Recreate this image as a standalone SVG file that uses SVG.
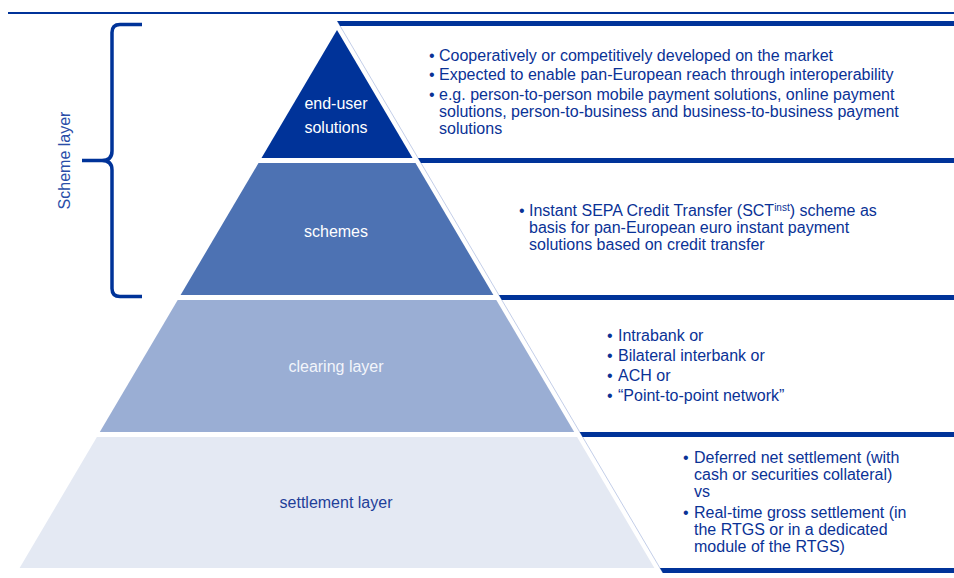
<svg xmlns="http://www.w3.org/2000/svg" width="954" height="578" viewBox="0 0 954 578">
<style>
  text { font-family: "Liberation Sans", Arial, sans-serif; }
  .body { font-size: 16px; fill: #0a3296; }
  .lbl { font-size: 16px; text-anchor: middle; }
  .band { fill: #003399; }
  .diag { stroke: #b4c2e2; stroke-width: 0.8; fill: none; }
</style>
<rect width="954" height="578" fill="#ffffff"/>
<line x1="8" y1="13" x2="954" y2="13" stroke="#003399" stroke-width="2"/>

<g id="scheme-layer-brace">
  <path d="M142,24.5 L120,24.5 Q112,24.5 112,32.5 L112,151 Q112,160.5 102,160.5 L82,160.5 M102,160.5 Q112,160.5 112,170 L112,288.5 Q112,296.5 120,296.5 L142,296.5" fill="none" stroke="#003399" stroke-width="3.5" stroke-linejoin="round"/>
  <text transform="translate(70,160.5) rotate(-90)" text-anchor="middle" font-size="16" fill="#2a4ea8">Scheme layer</text>
</g>

<g id="connectors">
  <line class="diag" x1="337.2" y1="21" x2="662.9" y2="573"/>
  <polygon class="band" points="337.2,21 954,21 954,26 340.1,26"/>
  <polygon class="band" points="418,158 954,158 954,163 421,163"/>
  <polygon class="band" points="498.9,295 954,295 954,300 501.8,300"/>
  <polygon class="band" points="579.7,432 954,432 954,437 582.6,437"/>
  <polygon class="band" points="659.9,568 954,568 954,573 662.9,573"/>
</g>

<g id="end-user-solutions">
  <polygon points="337,30 412.5,158 261.5,158" fill="#003399"/>
  <text class="lbl" x="336" y="109" fill="#ffffff">end-user</text>
  <text class="lbl" x="336" y="133" fill="#ffffff">solutions</text>
</g>
<g id="schemes">
  <polygon points="258.5,163 415.5,163 493.4,295 180.6,295" fill="#4d72b3"/>
  <text class="lbl" x="336" y="236.5" fill="#ffffff">schemes</text>
</g>
<g id="clearing-layer">
  <polygon points="177.7,300 496.3,300 574.2,432 99.8,432" fill="#9aaed4"/>
  <text class="lbl" x="336" y="371.5" fill="#f2f5fb">clearing layer</text>
</g>
<g id="settlement-layer">
  <polygon points="96.9,437 577.1,437 654.4,568 19.6,568" fill="#e4e9f3"/>
  <text class="lbl" x="336" y="508" fill="#1f3f99">settlement layer</text>
</g>

<g id="end-user-text">
  <text class="body" x="429" y="60.5">•</text>
  <text class="body" x="439" y="60.5">Cooperatively or competitively developed on the market</text>
  <text class="body" x="429" y="80">•</text>
  <text class="body" x="439" y="80">Expected to enable pan-European reach through interoperability</text>
  <text class="body" x="429" y="100">•</text>
  <text class="body" x="439" y="100">e.g. person-to-person mobile payment solutions, online payment</text>
  <text class="body" x="439" y="117">solutions, person-to-business and business-to-business payment</text>
  <text class="body" x="439" y="134">solutions</text>
</g>

<g id="schemes-text">
  <text class="body" x="519" y="216">•</text>
  <text class="body" x="529" y="216">Instant SEPA Credit Transfer (SCT<tspan font-size="10" dy="-5">inst</tspan><tspan dy="5">) scheme as</tspan></text>
  <text class="body" x="529" y="233">basis for pan-European euro instant payment</text>
  <text class="body" x="529" y="250">solutions based on credit transfer</text>
</g>

<g id="clearing-text">
  <text class="body" x="607" y="340.5">•</text>
  <text class="body" x="618" y="340.5">Intrabank or</text>
  <text class="body" x="607" y="360.5">•</text>
  <text class="body" x="618" y="360.5">Bilateral interbank or</text>
  <text class="body" x="607" y="380.5">•</text>
  <text class="body" x="618" y="380.5">ACH or</text>
  <text class="body" x="607" y="400.5">•</text>
  <text class="body" x="618" y="400.5">“Point-to-point network”</text>
</g>

<g id="settlement-text">
  <text class="body" x="683" y="463">•</text>
  <text class="body" x="694" y="463">Deferred net settlement (with</text>
  <text class="body" x="694" y="480">cash or securities collateral)</text>
  <text class="body" x="694" y="497">vs</text>
  <text class="body" x="683" y="517.5">•</text>
  <text class="body" x="694" y="517.5">Real-time gross settlement (in</text>
  <text class="body" x="694" y="534.5">the RTGS or in a dedicated</text>
  <text class="body" x="694" y="551.5">module of the RTGS)</text>
</g>
</svg>
